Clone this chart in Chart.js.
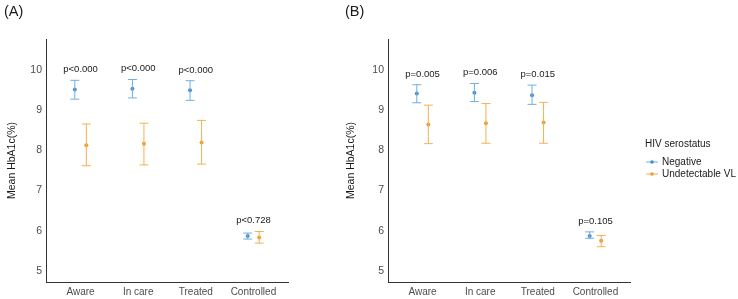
<!DOCTYPE html>
<html>
<head>
<meta charset="utf-8">
<script src="https://cdn.jsdelivr.net/npm/chart.js@4"></script>
<style>
  body { margin: 0; background: #fff; }
  #wrap { position: relative; width: 738px; height: 299px; }
  canvas { position: absolute; top: 0; }
</style>
</head>
<body>
<div id="wrap">
  <canvas id="chartA" style="left:0px" width="300" height="299"></canvas>
  <canvas id="chartB" style="left:342px" width="396" height="299"></canvas>
</div>
<script>
// categories and y ticks
const categories = ['Aware', 'In care', 'Treated', 'Controlled'];
const yTicks = [5, 6, 7, 8, 9, 10];
const seriesNames = ['Negative', 'Undetectable VL'];

// panel (A)
const negMeanA = [9.52, 9.54, 9.50, 5.87];
const negLowA = [9.28, 9.31, 9.25, 5.79];
const negHighA = [9.75, 9.77, 9.74, 5.94];
const uvlMeanA = [8.13, 8.17, 8.20, 5.83];
const uvlLowA = [7.62, 7.64, 7.66, 5.69];
const uvlHighA = [8.66, 8.68, 8.75, 5.98];
const pLabelsA = ['p<0.000', 'p<0.000', 'p<0.000', 'p<0.728'];

// panel (B)
const negMeanB = [9.42, 9.44, 9.38, 5.87];
const negLowB = [9.19, 9.22, 9.15, 5.81];
const negHighB = [9.64, 9.67, 9.63, 5.97];
const uvlMeanB = [8.65, 8.68, 8.70, 5.75];
const uvlLowB = [8.17, 8.18, 8.18, 5.60];
const uvlHighB = [9.13, 9.17, 9.20, 5.88];
const pLabelsB = ['p=0.005', 'p=0.006', 'p=0.015', 'p=0.105'];

const FONT = '"Liberation Sans", Arial, sans-serif';
const barColors = ['#6fb0e0', '#f4b14f'];
const pointColors = ['#4a8ccb', '#e99d34'];
const dodge = 0.1;

// error bars + p labels + panel tag + (optional) legend
const errorBarPlugin = {
    id: 'errorBars',
    afterDatasetsDraw(chart) {
        const ctx = chart.ctx;
        const xs = chart.scales.x, ys = chart.scales.y;
        chart.data.datasets.forEach((ds, di) => {
            ctx.save();
            ctx.strokeStyle = barColors[di];
            ctx.lineWidth = 1;
            ds.data.forEach((pt, i) => {
                const x = xs.getPixelForValue(pt.x);
                const yl = ys.getPixelForValue(ds.low[i]);
                const yh = ys.getPixelForValue(ds.high[i]);
                ctx.beginPath();
                ctx.moveTo(x, yl); ctx.lineTo(x, yh);
                ctx.moveTo(x - 4.5, yl); ctx.lineTo(x + 4.5, yl);
                ctx.moveTo(x - 4.5, yh); ctx.lineTo(x + 4.5, yh);
                ctx.stroke();
            });
            ctx.restore();
        });
    },
    afterDraw(chart, args, opts) {
        const ctx = chart.ctx;
        const xs = chart.scales.x, ys = chart.scales.y;
        const sets = chart.data.datasets;
        ctx.save();
        ctx.fillStyle = '#1a1a1a';
        ctx.textAlign = 'center';
        ctx.textBaseline = 'middle';
        ctx.font = '9.5px ' + FONT;
        opts.pLabels.forEach((lab, i) => {
            const top = Math.max(sets[0].high[i], sets[1].high[i]) + 0.27;
            ctx.fillText(lab, xs.getPixelForValue(i + 1), ys.getPixelForValue(top));
        });
        // panel tag
        ctx.textAlign = 'left';
        ctx.font = '14.5px ' + FONT;
        ctx.fillText(opts.tag, opts.tagX, 12);
        // legend
        if (opts.legend) {
            const lx = chart.chartArea.right + 15;
            ctx.font = '10px ' + FONT;
            ctx.fillText('HIV serostatus', lx, 144);
            seriesNames.forEach((name, k) => {
                const y = 162 + k * 12;
                ctx.strokeStyle = barColors[k];
                ctx.lineWidth = 1;
                ctx.beginPath();
                ctx.moveTo(lx + 1, y); ctx.lineTo(lx + 13, y);
                ctx.stroke();
                ctx.fillStyle = pointColors[k];
                ctx.beginPath();
                ctx.arc(lx + 7, y, 1.8, 0, Math.PI * 2);
                ctx.fill();
                ctx.fillStyle = '#1a1a1a';
                ctx.fillText(name, lx + 17, y);
            });
        }
        ctx.restore();
    }
};

function makePanel(canvasId, neg, negLow, negHigh, uvl, uvlLow, uvlHigh, pLabels, tag, tagX, legend, padLeft, padRight, titlePad) {
    const ctx = document.getElementById(canvasId).getContext('2d');
    return new Chart(ctx, {
        type: 'scatter',
        data: {
            datasets: [
                {
                    label: seriesNames[0],
                    data: neg.map((v, i) => ({ x: i + 1 - dodge, y: v })),
                    low: negLow, high: negHigh,
                    backgroundColor: pointColors[0],
                    borderColor: pointColors[0],
                    pointRadius: 2,
                    borderWidth: 0
                },
                {
                    label: seriesNames[1],
                    data: uvl.map((v, i) => ({ x: i + 1 + dodge, y: v })),
                    low: uvlLow, high: uvlHigh,
                    backgroundColor: pointColors[1],
                    borderColor: pointColors[1],
                    pointRadius: 2,
                    borderWidth: 0
                }
            ]
        },
        options: {
            responsive: false,
            animation: false,
            events: [],
            layout: { padding: { top: 39, bottom: 0, left: padLeft, right: padRight } },
            plugins: {
                legend: { display: false },
                tooltip: { enabled: false },
                errorBars: { pLabels: pLabels, tag: tag, tagX: tagX, legend: legend }
            },
            scales: {
                x: {
                    type: 'linear',
                    min: 0.4, max: 4.6,
                    grid: { display: false, drawTicks: false },
                    border: { display: true, color: '#333333', width: 1 },
                    afterBuildTicks: s => { s.ticks = categories.map((c, i) => ({ value: i + 1 })); },
                    afterFit: s => { s.height = 17; },
                    ticks: {
                        padding: 4,
                        color: '#4d4d4d',
                        font: { family: FONT, size: 10 },
                        callback: v => categories[v - 1] || ''
                    }
                },
                y: {
                    min: 4.72, max: 10.78,
                    grid: { display: false, drawTicks: false },
                    border: { display: true, color: '#333333', width: 1 },
                    afterBuildTicks: s => { s.ticks = yTicks.map(v => ({ value: v })); },
                    afterFit: s => { s.width = 46; },
                    title: {
                        display: true,
                        text: 'Mean HbA1c(%)',
                        color: '#1a1a1a',
                        font: { family: FONT, size: 10.5 },
                        padding: { top: titlePad, bottom: 0 }
                    },
                    ticks: {
                        padding: 4,
                        color: '#4d4d4d',
                        font: { family: FONT, size: 10.5 }
                    }
                }
            }
        },
        plugins: [errorBarPlugin]
    });
}

makePanel('chartA', negMeanA, negLowA, negHighA, uvlMeanA, uvlLowA, uvlHighA, pLabelsA, '(A)', 4, false, 0, 12, 5.5);
makePanel('chartB', negMeanB, negLowB, negHighB, uvlMeanB, uvlLowB, uvlHighB, pLabelsB, '(B)', 3, true, 0, 108, 2.5);
</script>
</body>
</html>
